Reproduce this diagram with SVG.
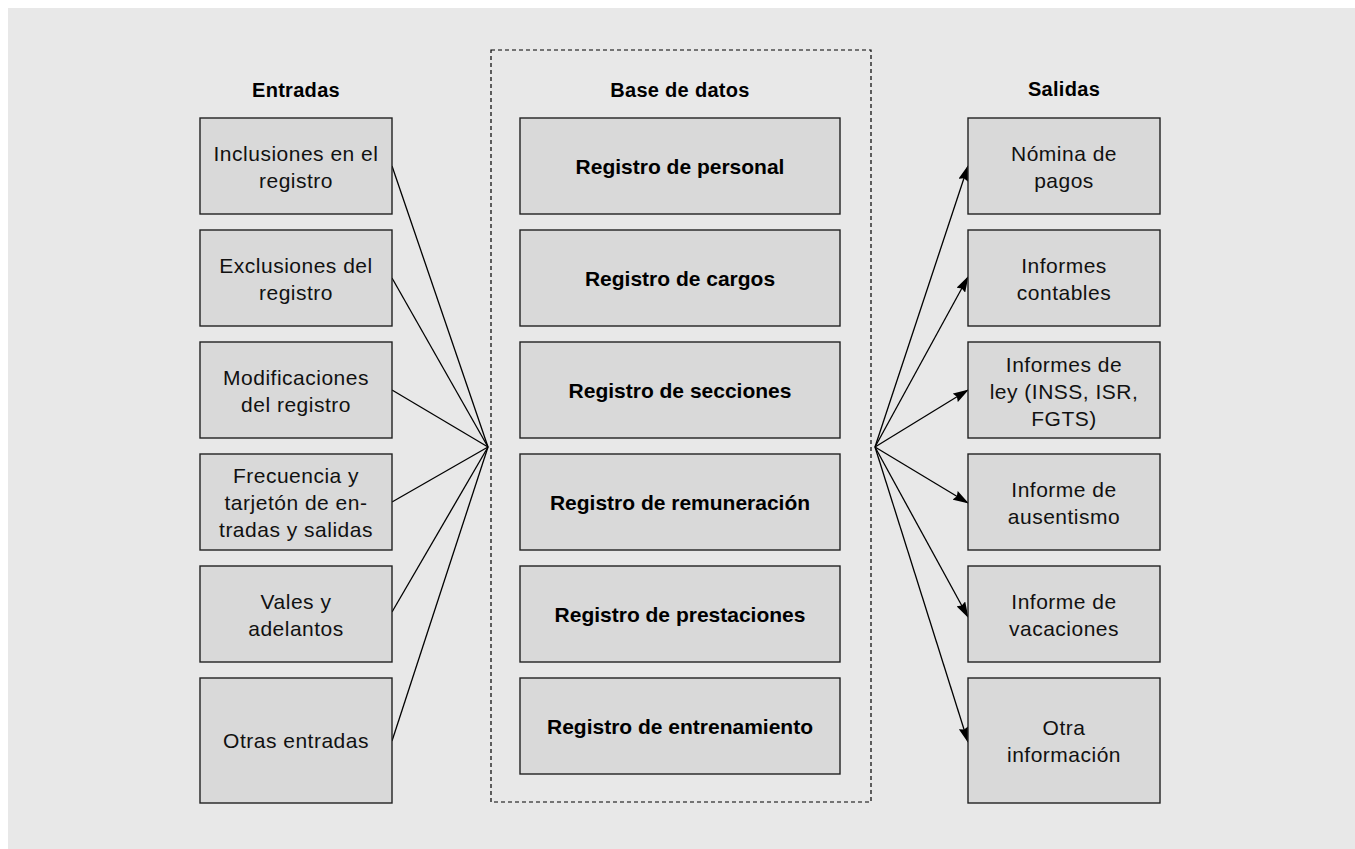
<svg xmlns="http://www.w3.org/2000/svg" width="1355" height="849" viewBox="0 0 1355 849">
<defs>
<marker id="arr" markerWidth="16" markerHeight="10" refX="15" refY="5" orient="auto" markerUnits="userSpaceOnUse">
<path d="M0,0 L16,5 L0,10 L2,5 z" fill="#000"/>
</marker>
<style>
.box{fill:#d9d9d9;stroke:#222;stroke-width:1.4}
.t{font-family:"Liberation Sans",Arial,sans-serif;font-size:21px;letter-spacing:0.5px;fill:#111;text-anchor:middle}
.b{font-family:"Liberation Sans",Arial,sans-serif;font-size:21px;font-weight:bold;fill:#000;text-anchor:middle}
.ttl{font-family:"Liberation Sans",Arial,sans-serif;font-size:20px;font-weight:bold;letter-spacing:0.3px;fill:#000;text-anchor:middle}
.ln{stroke:#000;stroke-width:1.3;fill:none}
</style>
</defs>
<rect x="0" y="0" width="1355" height="849" fill="#fff"/>
<rect x="8" y="8" width="1347" height="841" fill="#e8e8e8"/>
<g id="titles">
<text class="ttl" x="296" y="97">Entradas</text>
<text class="ttl" x="680" y="97">Base de datos</text>
<text class="ttl" x="1064" y="96">Salidas</text>
</g>
<g id="database">
<rect x="491" y="50" width="380" height="752" fill="none" stroke="#000" stroke-width="1.2" stroke-dasharray="4,3"/>
</g>
<g id="connectors">
<line class="ln" x1="392" y1="166" x2="488" y2="447"/>
<line class="ln" x1="392" y1="278" x2="488" y2="447"/>
<line class="ln" x1="392" y1="390" x2="488" y2="447"/>
<line class="ln" x1="392" y1="502" x2="488" y2="447"/>
<line class="ln" x1="392" y1="612" x2="488" y2="447"/>
<line class="ln" x1="392" y1="741" x2="488" y2="447"/>
<line class="ln" x1="875" y1="447" x2="968" y2="166" marker-end="url(#arr)"/>
<line class="ln" x1="875" y1="447" x2="968" y2="277" marker-end="url(#arr)"/>
<line class="ln" x1="875" y1="447" x2="968" y2="390" marker-end="url(#arr)"/>
<line class="ln" x1="875" y1="447" x2="968" y2="503" marker-end="url(#arr)"/>
<line class="ln" x1="875" y1="447" x2="968" y2="617" marker-end="url(#arr)"/>
<line class="ln" x1="875" y1="447" x2="968" y2="742" marker-end="url(#arr)"/>
</g>
<g id="in1"><rect class="box" x="200" y="118" width="192" height="96"/><text class="t" x="296" y="161">Inclusiones en el</text><text class="t" x="296" y="188">registro</text></g>
<g id="in2"><rect class="box" x="200" y="230" width="192" height="96"/><text class="t" x="296" y="273">Exclusiones del</text><text class="t" x="296" y="300">registro</text></g>
<g id="in3"><rect class="box" x="200" y="342" width="192" height="96"/><text class="t" x="296" y="385">Modificaciones</text><text class="t" x="296" y="412">del registro</text></g>
<g id="in4"><rect class="box" x="200" y="454" width="192" height="96"/><text class="t" x="296" y="483">Frecuencia y</text><text class="t" x="296" y="510">tarjetón de en-</text><text class="t" x="296" y="537">tradas y salidas</text></g>
<g id="in5"><rect class="box" x="200" y="566" width="192" height="96"/><text class="t" x="296" y="609">Vales y</text><text class="t" x="296" y="636">adelantos</text></g>
<g id="in6"><rect class="box" x="200" y="678" width="192" height="125"/><text class="t" x="296" y="748">Otras entradas</text></g>
<g id="db1"><rect class="box" x="520" y="118" width="320" height="96"/><text class="b" x="680" y="174">Registro de personal</text></g>
<g id="db2"><rect class="box" x="520" y="230" width="320" height="96"/><text class="b" x="680" y="286">Registro de cargos</text></g>
<g id="db3"><rect class="box" x="520" y="342" width="320" height="96"/><text class="b" x="680" y="398">Registro de secciones</text></g>
<g id="db4"><rect class="box" x="520" y="454" width="320" height="96"/><text class="b" x="680" y="510">Registro de remuneración</text></g>
<g id="db5"><rect class="box" x="520" y="566" width="320" height="96"/><text class="b" x="680" y="622">Registro de prestaciones</text></g>
<g id="db6"><rect class="box" x="520" y="678" width="320" height="96"/><text class="b" x="680" y="734">Registro de entrenamiento</text></g>
<g id="out1"><rect class="box" x="968" y="118" width="192" height="96"/><text class="t" x="1064" y="161">Nómina de</text><text class="t" x="1064" y="188">pagos</text></g>
<g id="out2"><rect class="box" x="968" y="230" width="192" height="96"/><text class="t" x="1064" y="273">Informes</text><text class="t" x="1064" y="300">contables</text></g>
<g id="out3"><rect class="box" x="968" y="342" width="192" height="96"/><text class="t" x="1064" y="372">Informes de</text><text class="t" x="1064" y="399">ley (INSS, ISR,</text><text class="t" x="1064" y="426">FGTS)</text></g>
<g id="out4"><rect class="box" x="968" y="454" width="192" height="96"/><text class="t" x="1064" y="497">Informe de</text><text class="t" x="1064" y="524">ausentismo</text></g>
<g id="out5"><rect class="box" x="968" y="566" width="192" height="96"/><text class="t" x="1064" y="609">Informe de</text><text class="t" x="1064" y="636">vacaciones</text></g>
<g id="out6"><rect class="box" x="968" y="678" width="192" height="125"/><text class="t" x="1064" y="735">Otra</text><text class="t" x="1064" y="762">información</text></g>
</svg>
